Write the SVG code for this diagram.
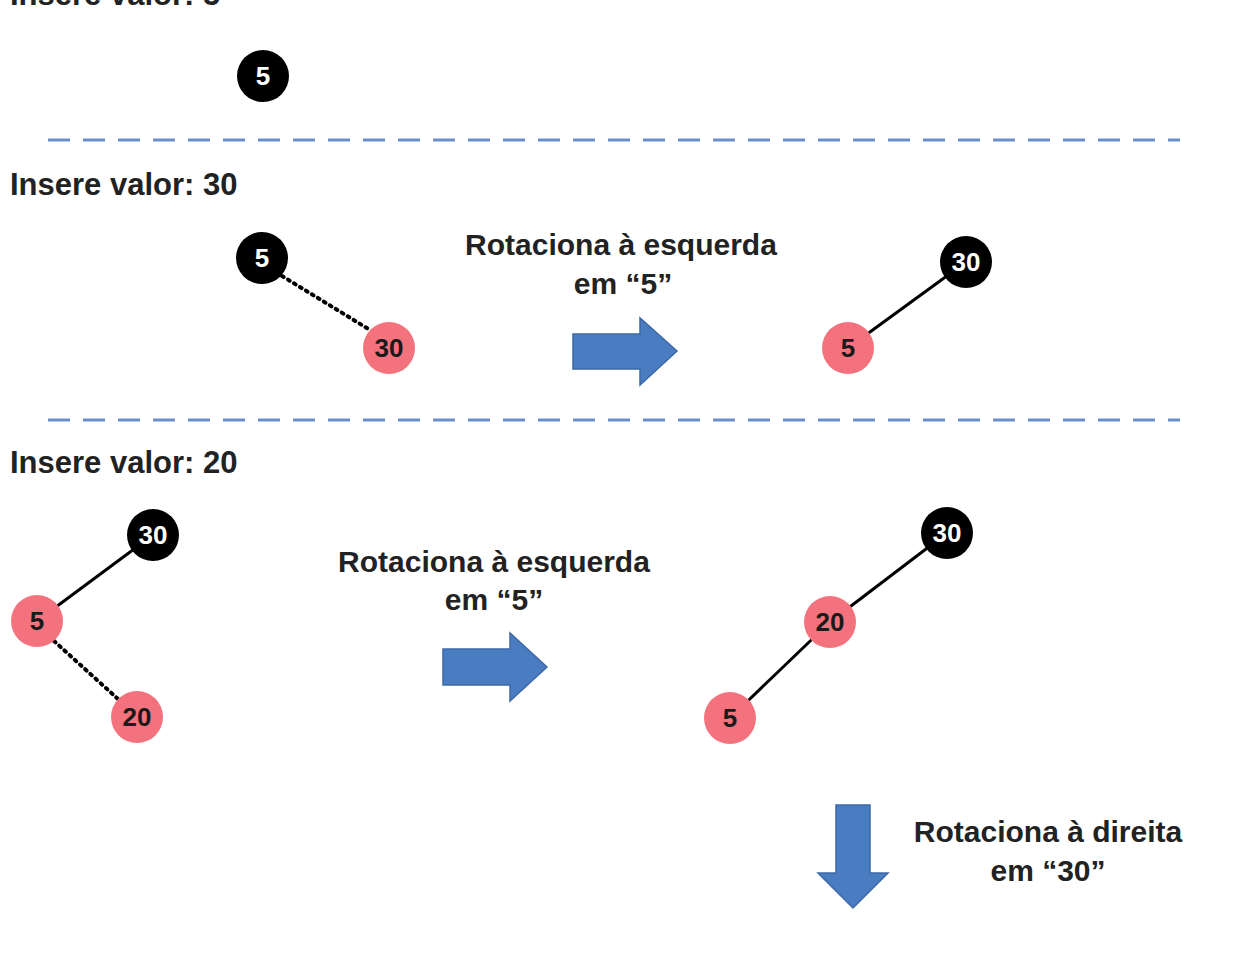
<svg xmlns="http://www.w3.org/2000/svg" width="1245" height="955" viewBox="0 0 1245 955">
<style>
.lbl{font-family:"Liberation Sans",Arial,sans-serif;font-weight:bold;font-size:31px;fill:#222}
.cap{font-family:"Liberation Sans",Arial,sans-serif;font-weight:bold;font-size:30px;fill:#222;text-anchor:middle}
.blk{fill:#000}
.red{fill:#f3727d}
.nt{font-family:"Liberation Sans",Arial,sans-serif;font-weight:bold;font-size:26px;text-anchor:middle;dominant-baseline:central}
.w{fill:#fff}
.d{fill:#1a1a1a}
.sep{stroke:#6a8fcb;stroke-width:3;stroke-dasharray:22 13;fill:none}
.solid{stroke:#000;stroke-width:3;fill:none}
.dot{stroke:#000;stroke-width:4;stroke-dasharray:2 5;stroke-linecap:round;fill:none}
.arr{fill:#4a7cc1;stroke:#3d68a8;stroke-width:1.5}
</style>
<rect width="1245" height="955" fill="#fff"/>
<g id="labels">
<text class="lbl" x="10" y="5">Insere valor: 5</text>
<text class="lbl" x="10" y="195">Insere valor: 30</text>
<text class="lbl" x="10" y="473">Insere valor: 20</text>
<text class="cap" x="621" y="255">Rotaciona à esquerda</text>
<text class="cap" x="623" y="294">em “5”</text>
<text class="cap" x="494" y="572">Rotaciona à esquerda</text>
<text class="cap" x="494" y="610">em “5”</text>
<text class="cap" x="1048" y="842">Rotaciona à direita</text>
<text class="cap" x="1048" y="881">em “30”</text>
</g>
<g id="separators">
<line class="sep" x1="48" y1="140" x2="1180" y2="140"/>
<line class="sep" x1="48" y1="420" x2="1180" y2="420"/>
</g>
<g id="connectors">
<line class="dot" x1="282" y1="276" x2="370" y2="330"/>
<line class="solid" x1="966" y1="262" x2="848" y2="348"/>
<line class="solid" x1="153" y1="535" x2="37" y2="621"/>
<line class="dot" x1="54" y1="641" x2="118" y2="699"/>
<line class="solid" x1="947" y1="533" x2="830" y2="622"/>
<line class="solid" x1="830" y1="622" x2="730" y2="718"/>
</g>
<g id="arrows">
<polygon class="arr" points="573,334 640,334 640,318 677,351 640,385 640,369 573,369"/>
<polygon class="arr" points="443,649 510,649 510,633 547,667 510,701 510,685 443,685"/>
<polygon class="arr" points="836,805 870,805 870,873 888,873 853,908 818,873 836,873"/>
</g>
<g id="n1_5"><circle class="blk" cx="263" cy="76" r="26"/><text class="nt w" x="263" y="76">5</text></g>
<g id="n2_5"><circle class="blk" cx="262" cy="258" r="26"/><text class="nt w" x="262" y="258">5</text></g>
<g id="n2_30"><circle class="red" cx="389" cy="348" r="26"/><text class="nt d" x="389" y="348">30</text></g>
<g id="n2r_30"><circle class="blk" cx="966" cy="262" r="26"/><text class="nt w" x="966" y="262">30</text></g>
<g id="n2r_5"><circle class="red" cx="848" cy="348" r="26"/><text class="nt d" x="848" y="348">5</text></g>
<g id="n3_30"><circle class="blk" cx="153" cy="535" r="26"/><text class="nt w" x="153" y="535">30</text></g>
<g id="n3_5"><circle class="red" cx="37" cy="621" r="26"/><text class="nt d" x="37" y="621">5</text></g>
<g id="n3_20"><circle class="red" cx="137" cy="717" r="26"/><text class="nt d" x="137" y="717">20</text></g>
<g id="n3r_30"><circle class="blk" cx="947" cy="533" r="26"/><text class="nt w" x="947" y="533">30</text></g>
<g id="n3r_20"><circle class="red" cx="830" cy="622" r="26"/><text class="nt d" x="830" y="622">20</text></g>
<g id="n3r_5"><circle class="red" cx="730" cy="718" r="26"/><text class="nt d" x="730" y="718">5</text></g>
</svg>
